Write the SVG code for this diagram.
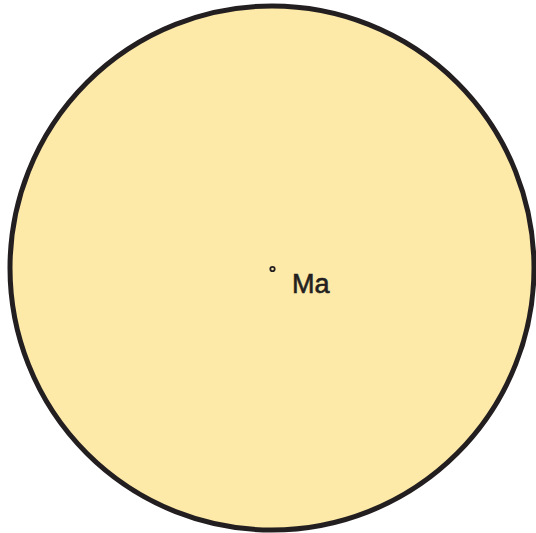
<svg xmlns="http://www.w3.org/2000/svg" width="536" height="533" viewBox="0 0 536 533">
<style>
.lbl{font-family:"Liberation Sans",Arial,sans-serif;font-size:27px;fill:#231f20;stroke:#231f20;stroke-width:0.6}
</style>
<rect width="536" height="533" fill="#ffffff"/>
<g id="disk">
<circle cx="272" cy="268" r="262" fill="#fde9a8" stroke="#231f20" stroke-width="5"/>
</g>
<g id="center">
<circle cx="272.5" cy="269" r="2.2" fill="none" stroke="#231f20" stroke-width="1.8"/>
<text class="lbl" x="292" y="293">Ma</text>
</g>
</svg>
